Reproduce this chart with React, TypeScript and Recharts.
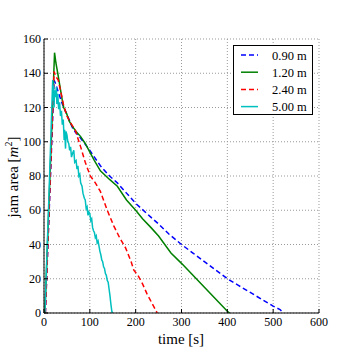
import { LineChart, Line, XAxis, YAxis, CartesianGrid } from 'recharts';

// time [s], jam area [m^2]
const blueT = [3, 22, 25, 30, 40, 50, 64, 80, 100, 110, 123, 143, 160, 180, 200, 233, 250, 273, 300, 325, 350, 375, 400, 425, 450, 475, 500, 515, 522];
const blueV = [0, 136, 134, 130, 122, 116, 107, 102, 95, 91, 86, 80, 76, 70, 64, 56, 52, 46, 40, 35, 30, 25, 20, 16, 12, 8, 4, 2, 0];

const greenT = [2, 23, 26, 30, 35, 40, 43, 50, 55, 62, 70, 80, 90, 100, 110, 123, 135, 143, 160, 180, 200, 215, 233, 250, 277, 300, 325, 350, 375, 400, 405];
const greenV = [0, 152, 146, 140, 132, 124, 120, 116, 112, 109, 106, 103, 99, 94, 89, 83, 80, 78, 74, 66, 60, 55, 50, 45, 35, 29, 22, 15, 8, 1, 0];

const redT = [3, 22, 26, 31, 36, 43, 50, 58, 68, 80, 90, 101, 112, 123, 138, 152, 165, 178, 190, 196, 205, 215, 225, 235, 247];
const redV = [0, 141, 138, 136, 130, 121, 115, 111, 107, 97, 88, 80, 76, 71, 60, 51, 44, 38, 30, 25, 22, 17, 11, 6, 0];

const cyanT = [2, 10, 18, 19, 20, 21, 22, 23, 25, 27, 28, 30, 32, 34, 36, 38, 40, 42, 44, 45, 47, 48, 50, 52, 54, 56, 58, 60, 62, 65, 67, 70, 72, 74, 76, 78, 80, 83, 85, 88, 90, 92, 94, 96, 98, 100, 102, 104, 106, 108, 110, 112, 114, 116, 118, 120, 122, 124, 126, 128, 130, 132, 134, 136, 138, 140, 142, 144, 146, 148, 149];
const cyanV = [0, 62, 128, 136, 124, 133, 120, 130, 126, 132, 122, 128, 119, 123, 115, 118, 110, 113, 101, 107, 96, 106, 104, 100, 99, 95, 97, 91, 93, 95, 88, 89, 84, 86, 80, 81, 76, 74, 70, 67, 66, 61, 62, 57, 59, 58, 54, 55, 50, 48, 47, 44, 45, 41, 42, 39, 36, 34, 31, 30, 27, 26, 23, 22, 19, 18, 14, 10, 5, 1, 0];

const xTicks = [0, 100, 200, 300, 400, 500, 600];
const yTicks = [0, 20, 40, 60, 80, 100, 120, 140, 160];

const toPoints = (ts: number[], vs: number[]) => ts.map((t, i) => ({ t, v: vs[i] }));

const series = [
  { name: '0.90 m', color: '#0000ff', dash: '5 3', data: toPoints(blueT, blueV) },
  { name: '1.20 m', color: '#008000', dash: undefined, data: toPoints(greenT, greenV) },
  { name: '2.40 m', color: '#ff0000', dash: '5 3', data: toPoints(redT, redV) },
  { name: '5.00 m', color: '#00bfbf', dash: undefined, data: toPoints(cyanT, cyanV) },
];

const FONT = 'Liberation Serif, DejaVu Serif, serif';

function BottomTick(props: any) {
  const { x, y, payload } = props;
  return (
    <g>
      <line x1={x} y1={y} x2={x} y2={y - 4} stroke="#000" />
      <text x={x} y={y + 13} textAnchor="middle" fontSize={12} fontFamily={FONT} fill="#000">
        {payload.value}
      </text>
    </g>
  );
}

function LeftTick(props: any) {
  const { x, y, payload } = props;
  return (
    <g>
      <line x1={x} y1={y} x2={x + 4} y2={y} stroke="#000" />
      <text x={x - 3} y={y + 4} textAnchor="end" fontSize={12} fontFamily={FONT} fill="#000">
        {payload.value}
      </text>
    </g>
  );
}

function TopTick(props: any) {
  const { x, y } = props;
  return <line x1={x} y1={y} x2={x} y2={y + 4} stroke="#000" />;
}

function RightTick(props: any) {
  const { x, y } = props;
  return <line x1={x} y1={y} x2={x - 4} y2={y} stroke="#000" />;
}

function LegendBox() {
  return (
    <svg width={81} height={71} style={{ position: 'absolute', left: 233, top: 45 }}>
      <rect x={0.5} y={0.5} width={79} height={69} fill="#fff" stroke="#000" />
      {series.map((s, i) => {
        const cy = 10 + i * 17.2;
        return (
          <g key={s.name}>
            <line x1={8} y1={cy} x2={25} y2={cy} stroke={s.color} strokeWidth={1.5} strokeDasharray={s.dash} />
            <text x={39} y={cy + 4.5} fontSize={12.5} fontFamily={FONT} fill="#000">
              {s.name}
            </text>
          </g>
        );
      })}
    </svg>
  );
}

export default function App() {
  return (
    <div style={{ position: 'absolute', left: 0, top: 0, width: 354, height: 354, background: '#fff' }}>
      <LineChart width={354} height={354} margin={{ top: 39, right: 35, bottom: 0, left: 0 }}>
        <CartesianGrid stroke="#999" strokeDasharray="1 2" horizontalValues={yTicks} verticalValues={xTicks} />
        <XAxis
          type="number"
          dataKey="t"
          domain={[0, 600]}
          ticks={xTicks}
          height={41}
          stroke="#000"
          tickLine={false}
          tickSize={0}
          tickMargin={0}
          tick={<BottomTick />}
          interval={0}
        />
        <XAxis
          xAxisId="top"
          orientation="top"
          type="number"
          dataKey="t"
          domain={[0, 600]}
          ticks={xTicks}
          height={0}
          stroke="#000"
          tickLine={false}
          tickSize={0}
          tickMargin={0}
          tick={<TopTick />}
          interval={0}
        />
        <YAxis
          type="number"
          domain={[0, 160]}
          ticks={yTicks}
          width={44}
          stroke="#000"
          tickLine={false}
          tickSize={0}
          tickMargin={0}
          tick={<LeftTick />}
          interval={0}
        />
        <YAxis
          yAxisId="right"
          orientation="right"
          type="number"
          domain={[0, 160]}
          ticks={yTicks}
          width={0}
          stroke="#000"
          tickLine={false}
          tickSize={0}
          tickMargin={0}
          tick={<RightTick />}
          interval={0}
        />
        {series.map((s) => (
          <Line
            key={s.name}
            data={s.data}
            dataKey="v"
            name={s.name}
            type="linear"
            stroke={s.color}
            strokeWidth={1.5}
            strokeDasharray={s.dash}
            dot={false}
            activeDot={false}
            isAnimationActive={false}
          />
        ))}
      </LineChart>
      <LegendBox />
      <svg width={354} height={354} style={{ position: 'absolute', left: 0, top: 0, pointerEvents: 'none' }}>
        <text x={181} y={344} textAnchor="middle" fontSize={15} fontFamily={FONT} fill="#000">
          time [s]
        </text>
        <text x={13} y={177} textAnchor="middle" fontSize={15} fontFamily={FONT} fill="#000" transform="rotate(-90 13 177)" dy={5}>
          jam area [<tspan fontStyle="italic">m</tspan>
          <tspan fontSize={10} dy={-6}>2</tspan>
          <tspan dy={6}>]</tspan>
        </text>
      </svg>
    </div>
  );
}
